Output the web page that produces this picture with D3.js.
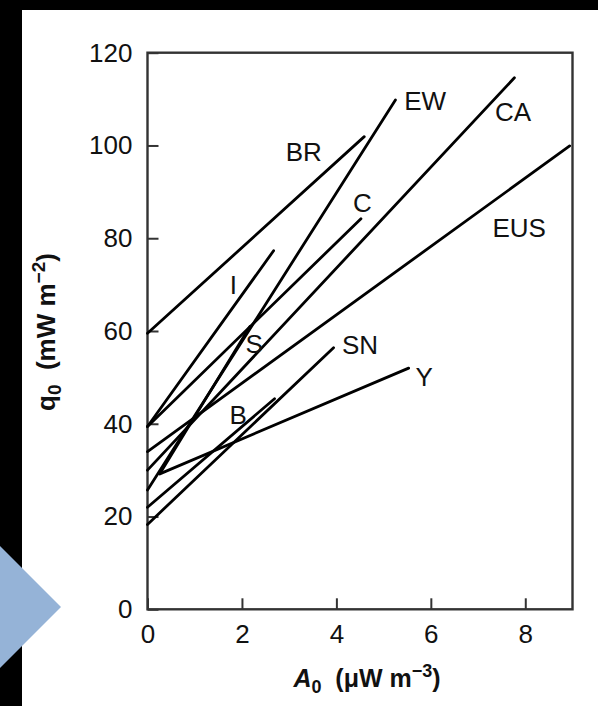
<!DOCTYPE html>
<html>
<head>
<meta charset="utf-8">
<script src="https://cdn.jsdelivr.net/npm/d3@7"></script>
<style>
  html, body { margin: 0; padding: 0; background: #fff; }
  svg { display: block; }
</style>
</head>
<body>
<div id="chart"></div>
<script>
// heat flow provinces: q0 = qr + D * A0, drawn over each province's A0 range
const provinces = ['BR', 'I', 'C', 'EUS', 'CA', 'EW', 'S', 'Y', 'B', 'SN'];
const startA = [0, 0, 0, 0, 0, 0, 0.26, 0.26, 0, 0];
const startQ = [59.5, 39.4, 39.4, 34, 30, 25.7, 29.2, 29.2, 22, 18.3];
const endA = [4.59, 2.67, 4.52, 8.94, 7.77, 5.25, 2.17, 5.53, 2.69, 3.94];
const endQ = [101.9, 77.3, 84.2, 99.9, 114.6, 109.8, 61, 52, 45.4, 56.4];
// where each province name sits (data units)
const labelA = [3.31, 1.82, 4.55, 7.87, 7.74, 5.88, 2.26, 5.86, 1.92, 4.5];
const labelQ = [98.6, 69.9, 87.6, 82.3, 107.2, 109.6, 57.2, 50.1, 41.9, 57.0];

const xTicks = [0, 2, 4, 6, 8];
const yTicks = [0, 20, 40, 60, 80, 100, 120];

const width = 598;
const height = 706;
const margin = { top: 52.7, right: 25.5, bottom: 96.7, left: 147.5 };
const font = '"Liberation Sans", Arial, Helvetica, sans-serif';

const svg = d3.select('#chart')
    .append('svg')
    .attr('width', width)
    .attr('height', height)
    .style('font-family', font);

// slide background: black strips on the left and top, blue arrow
svg.append('rect').attr('width', width).attr('height', height).attr('fill', '#fff');
svg.append('rect').attr('width', width).attr('height', 10).attr('fill', '#000');
svg.append('rect').attr('width', 22).attr('height', height).attr('fill', '#000');
svg.append('path')
    .attr('d', 'M0,546L61,607L0,668Z')
    .attr('fill', '#95b3d7');

const x = d3.scaleLinear().domain([0, 9]).range([margin.left, width - margin.right]);
const y = d3.scaleLinear().domain([0, 120]).range([height - margin.bottom, margin.top]);

// axes with inward ticks
const xAxis = svg.append('g')
    .attr('transform', `translate(0,${y(0)})`)
    .call(d3.axisBottom(x).tickValues(xTicks).tickSizeInner(-11).tickSizeOuter(0).tickPadding(15));
const yAxis = svg.append('g')
    .attr('transform', `translate(${x(0)},0)`)
    .call(d3.axisLeft(y).tickValues(yTicks).tickSizeInner(-11).tickSizeOuter(0).tickPadding(15));

[xAxis, yAxis].forEach((g) => {
    g.select('.domain').remove();
    g.selectAll('line').attr('stroke', '#333').attr('stroke-width', 2);
    g.selectAll('text')
        .attr('fill', '#111')
        .style('font-family', font)
        .style('font-size', '26px');
});

// frame
svg.append('rect')
    .attr('x', x(0))
    .attr('y', y(120))
    .attr('width', x(9) - x(0))
    .attr('height', y(0) - y(120))
    .attr('fill', 'none')
    .attr('stroke', '#333')
    .attr('stroke-width', 2.4);

// province lines
const rows = provinces.map((name, i) => ({
    name,
    a0: startA[i], q0: startQ[i],
    a1: endA[i], q1: endQ[i],
    la: labelA[i], lq: labelQ[i]
}));

svg.append('g')
    .selectAll('line')
    .data(rows)
    .join('line')
    .attr('x1', (d) => x(d.a0))
    .attr('y1', (d) => y(d.q0))
    .attr('x2', (d) => x(d.a1))
    .attr('y2', (d) => y(d.q1))
    .attr('stroke', '#000')
    .attr('stroke-width', 2.8)
    .attr('stroke-linecap', 'round');

svg.append('g')
    .selectAll('text')
    .data(rows)
    .join('text')
    .attr('x', (d) => x(d.la))
    .attr('y', (d) => y(d.lq))
    .attr('text-anchor', 'middle')
    .attr('dominant-baseline', 'central')
    .attr('fill', '#111')
    .style('font-size', '26px')
    .text((d) => d.name);

// axis titles
const xTitle = svg.append('text')
    .attr('x', 367)
    .attr('y', 687)
    .attr('text-anchor', 'middle')
    .attr('fill', '#111')
    .style('font-size', '25px')
    .style('font-weight', 'bold');
xTitle.append('tspan').style('font-style', 'italic').text('A');
xTitle.append('tspan').attr('dy', 6).style('font-size', '18px').text('0');
xTitle.append('tspan').attr('dy', -6).text('\u00a0\u00a0(\u03bcW m');
xTitle.append('tspan').attr('dy', -10).style('font-size', '18px').text('\u22123');
xTitle.append('tspan').attr('dy', 10).text(')');

const yTitle = svg.append('text')
    .attr('transform', 'translate(55,332) rotate(-90)')
    .attr('text-anchor', 'middle')
    .attr('fill', '#111')
    .style('font-size', '26px')
    .style('font-weight', 'bold');
yTitle.append('tspan').text('q');
yTitle.append('tspan').attr('dy', 6).style('font-size', '19px').text('0');
yTitle.append('tspan').attr('dy', -6).text('\u00a0\u00a0(mW m');
yTitle.append('tspan').attr('dy', -10).style('font-size', '19px').text('\u22122');
yTitle.append('tspan').attr('dy', 10).text(')');
</script>
</body>
</html>
